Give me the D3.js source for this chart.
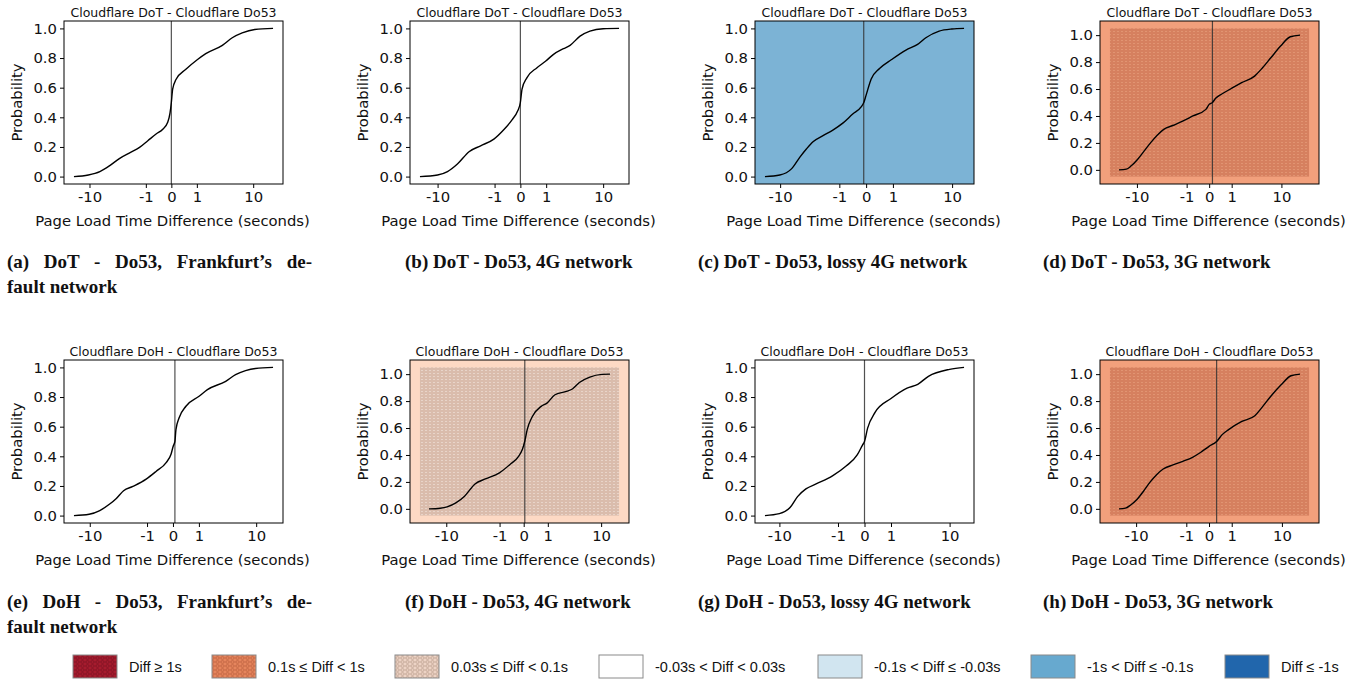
<!DOCTYPE html>
<html>
<head>
<meta charset="utf-8">
<script src="https://cdn.jsdelivr.net/npm/d3@7"></script>
<style>
body { margin: 0; background: #fff; }
</style>
</head>
<body>
<div id="chart"></div>
<script>
var W = 1361, H = 683;

// ---- data (x in seconds, p = cumulative probability) ----
var aX = [-16.9,-10.4,-6.97,-4.87,-3.33,-2.21,-1.40,-0.89,-0.50,-0.25,-0.098,-0.034,0,0.034,0.127,0.47,1.04,1.59,3.25,4.75,6.81,10.55,19.5];
var aP = [0,0.011,0.034,0.074,0.123,0.16,0.197,0.242,0.287,0.32,0.366,0.43,0.5,0.59,0.655,0.724,0.79,0.83,0.886,0.937,0.97,0.993,1.0];

var bX = [-18.0,-10.0,-7.11,-4.99,-3.22,-1.99,-1.04,-0.55,-0.24,-0.069,0,0.043,0.185,0.55,0.98,1.47,2.30,3.02,4.42,6.33,10.0,17.0];
var bP = [0,0.011,0.034,0.085,0.168,0.208,0.253,0.316,0.383,0.444,0.5,0.59,0.668,0.735,0.78,0.825,0.863,0.886,0.948,0.982,0.998,1.0];

var cX = [-16.3,-10.1,-6.87,-5.17,-4.08,-3.19,-2.15,-1.39,-0.82,-0.40,-0.13,-0.058,0,0.13,0.40,0.93,1.87,3.0,4.08,6.5,9.9,14.7];
var cP = [0,0.011,0.052,0.13,0.186,0.235,0.276,0.314,0.361,0.422,0.47,0.5,0.55,0.657,0.729,0.79,0.854,0.892,0.937,0.982,0.996,1.0];

var dX = [-19.8,-15.0,-12.45,-9.7,-7.5,-5.77,-4.4,-3.31,-2.1,-1.24,-0.64,-0.10,0,0.1,0.21,0.48,0.95,1.78,3.31,4.4,6.58,9.7,14.1,20.3];
var dP = [0,0.005,0.03,0.079,0.141,0.202,0.257,0.301,0.331,0.363,0.4,0.449,0.486,0.5,0.531,0.565,0.602,0.647,0.696,0.746,0.832,0.919,0.988,1.0];

var eX = [-16.9,-10.2,-7.1,-4.99,-3.9,-2.95,-2.0,-1.05,-0.56,-0.19,-0.05,0.008,0.05,0.078,0.17,0.40,1.01,1.55,3.36,4.87,6.94,9.76,17.5];
var eP = [0,0.009,0.034,0.078,0.116,0.168,0.197,0.246,0.298,0.358,0.414,0.47,0.5,0.58,0.66,0.738,0.805,0.85,0.906,0.951,0.978,0.993,1.0];

var fX = [-18.5,-12.45,-9.7,-7.03,-5.04,-3.31,-2.1,-1.01,-0.48,-0.15,-0.038,0.028,0.10,0.27,0.64,0.95,1.49,2.46,3.31,4.4,6.58,10.3,13.75];
var fP = [0,0.005,0.015,0.044,0.094,0.185,0.222,0.267,0.328,0.39,0.44,0.5,0.588,0.686,0.761,0.785,0.847,0.87,0.89,0.938,0.978,0.998,1.0];

var gX = [-16,-10,-7.0,-5.4,-4.0,-2.66,-1.33,-0.59,-0.2,-0.05,0,0.08,0.31,1.0,2.14,3.28,4.85,10,16];
var gP = [0,0.013,0.054,0.128,0.18,0.215,0.268,0.336,0.409,0.476,0.5,0.59,0.698,0.79,0.86,0.886,0.94,0.987,1.0];

var hX = [-19.1,-15.0,-12.45,-9.7,-7.5,-5.77,-4.4,-3.31,-2.1,-1.24,-0.64,-0.27,0,0.25,0.48,0.81,1.78,3.31,4.4,6.58,9.7,14.1,19.8];
var hP = [0,0.005,0.027,0.069,0.131,0.198,0.254,0.296,0.326,0.353,0.383,0.42,0.464,0.5,0.551,0.588,0.649,0.691,0.748,0.84,0.921,0.988,1.0];

var medians = [0, 0, -0.06, 0.1, 0.05, 0.03, 0, 0.25];
// median-difference category of each panel (index into legendLabels)
var panelCategory = [3, 3, 5, 1, 3, 2, 3, 1];

var titles = ["Cloudflare DoT - Cloudflare Do53", "Cloudflare DoH - Cloudflare Do53"];
var captions = [
  ["(a) DoT - Do53, Frankfurt\u2019s de-", "fault network"],
  ["(b) DoT - Do53, 4G network"],
  ["(c) DoT - Do53, lossy 4G network"],
  ["(d) DoT - Do53, 3G network"],
  ["(e) DoH - Do53, Frankfurt\u2019s de-", "fault network"],
  ["(f) DoH - Do53, 4G network"],
  ["(g) DoH - Do53, lossy 4G network"],
  ["(h) DoH - Do53, 3G network"]
];

var xTickVals = [-10, -1, 0, 1, 10];
var xTickLabels = ["-10", "-1", "0", "1", "10"];
var yTickVals = [0, 0.2, 0.4, 0.6, 0.8, 1.0];

var legendLabels = ["Diff \u2265 1s", "0.1s \u2264 Diff < 1s", "0.03s \u2264 Diff < 0.1s",
  "-0.03s < Diff < 0.03s", "-0.1s < Diff \u2264 -0.03s", "-1s < Diff \u2264 -0.1s", "Diff \u2264 -1s"];

// ---- styles ----
var catStyle = [
  { swatch: "url(#hatchRed)",    bg: "#b2182b", inner: null },
  { swatch: "url(#hatchOrange)", bg: "#f2a07c", inner: "url(#dotsOrange)" },
  { swatch: "url(#hatchPeach)",  bg: "#fdd9c4", inner: "url(#dotsPeach)" },
  { swatch: "#ffffff",           bg: "#ffffff", inner: null },
  { swatch: "#d1e5f0",           bg: "#d1e5f0", inner: null },
  { swatch: "#67a9cf",           bg: "#7cb3d5", inner: null },
  { swatch: "#2166ac",           bg: "#2166ac", inner: null }
];

var series = [[aX,aP],[bX,bP],[cX,cP],[dX,dP],[eX,eP],[fX,fP],[gX,gP],[hX,hP]];

var colLeft = [64, 410, 755, 1100];
var capLeft = [7, 405, 698, 1043];
var rowTop = [21, 360];
var pw = 219, ph = 163;

var SYM_C = 0.8;
function T(x) { return Math.sign(x) * Math.log1p(Math.abs(x) / SYM_C); }
function Tinv(u) { return Math.sign(u) * SYM_C * Math.expm1(Math.abs(u)); }

var svg = d3.select("#chart").append("svg")
  .attr("width", W).attr("height", H)
  .style("font-family", "'DejaVu Sans', sans-serif");

// ---- patterns ----
var defs = svg.append("defs");
function dots(id, base, dot) {
  var p = defs.append("pattern").attr("id", id)
    .attr("patternUnits", "userSpaceOnUse").attr("width", 4).attr("height", 3);
  p.append("rect").attr("width", 4).attr("height", 3).attr("fill", base);
  p.append("rect").attr("x", 1.5).attr("y", 1).attr("width", 1).attr("height", 1).attr("fill", dot);
}
dots("dotsOrange", "#d6805f", "#eda886");
dots("dotsPeach", "#dabcac", "#f6ece6");

function rings(id, base, line) {
  var p = defs.append("pattern").attr("id", id)
    .attr("patternUnits", "userSpaceOnUse").attr("width", 5).attr("height", 4);
  p.append("rect").attr("width", 5).attr("height", 4).attr("fill", base);
  p.append("ellipse").attr("cx", 2.5).attr("cy", 2).attr("rx", 1.8).attr("ry", 1.3)
    .attr("fill", "none").attr("stroke", line).attr("stroke-width", 0.7);
}
rings("hatchRed", "#a71b2e", "#761020");
rings("hatchOrange", "#e6855d", "#b45a3a");
rings("hatchPeach", "#edd3c5", "#b39785");

// ---- panels ----
series.forEach(function(s, i) {
  var xs = s[0], ps = s[1];
  var row = Math.floor(i / 4), col = i % 4;
  var left = colLeft[col], top = rowTop[row];
  var st = catStyle[panelCategory[i]];
  var shaded = st.inner !== null;

  var lo = T(d3.min(xs)), hi = T(d3.max(xs));
  var pad = (hi - lo) * 0.05;
  var u0 = lo - pad, u1 = hi + pad;
  var rectU = [u0, u1];
  if (shaded) {
    var pad2 = (u1 - u0) * 0.05;
    u0 -= pad2; u1 += pad2;
  }

  var x = d3.scaleSymlog().constant(SYM_C)
    .domain([Tinv(u0), Tinv(u1)])
    .range([left, left + pw]);
  var y = d3.scaleLinear()
    .domain(shaded ? [-0.105, 1.105] : [-0.05, 1.05])
    .range([top + ph, top]);

  var g = svg.append("g");

  g.append("rect")
    .attr("x", left).attr("y", top).attr("width", pw).attr("height", ph)
    .attr("fill", st.bg);

  if (shaded) {
    g.append("rect")
      .attr("x", x(Tinv(rectU[0])))
      .attr("y", y(1.05))
      .attr("width", x(Tinv(rectU[1])) - x(Tinv(rectU[0])))
      .attr("height", y(-0.05) - y(1.05))
      .attr("fill", st.inner);
  }

  // median line
  g.append("line")
    .attr("x1", x(medians[i])).attr("x2", x(medians[i]))
    .attr("y1", top).attr("y2", top + ph)
    .attr("stroke", "#333").attr("stroke-opacity", 0.85)
    .attr("stroke-width", 1.2);

  var pts = xs.map(function(v, k) { return [x(v), y(ps[k])]; });
  g.append("path")
    .attr("d", d3.line().curve(d3.curveMonotoneX)(pts))
    .attr("fill", "none").attr("stroke", "#000").attr("stroke-width", 1.4);

  g.append("rect")
    .attr("x", left).attr("y", top).attr("width", pw).attr("height", ph)
    .attr("fill", "none").attr("stroke", "#000").attr("stroke-width", 1);

  var xAxis = d3.axisBottom(x).tickValues(xTickVals)
    .tickFormat(function(d, k) { return xTickLabels[k]; })
    .tickSize(4).tickPadding(3).tickSizeOuter(0);
  var gx = g.append("g").attr("transform", "translate(0," + (top + ph) + ")").call(xAxis);
  gx.select(".domain").remove();
  gx.selectAll("text").style("font-size", "14.8px").style("font-family", "'DejaVu Sans', sans-serif").attr("fill", "#111");

  var yAxis = d3.axisLeft(y).tickValues(yTickVals).tickFormat(d3.format(".1f"))
    .tickSize(4).tickPadding(3).tickSizeOuter(0);
  var gy = g.append("g").attr("transform", "translate(" + left + ",0)").call(yAxis);
  gy.select(".domain").remove();
  gy.selectAll("text").style("font-size", "14.8px").style("font-family", "'DejaVu Sans', sans-serif").attr("fill", "#111");

  g.append("text")
    .attr("x", left + pw / 2).attr("y", top - 4)
    .attr("text-anchor", "middle").style("font-size", "12.5px").attr("fill", "#111")
    .text(titles[row]);

  g.append("text")
    .attr("x", left + pw / 2 - 1).attr("y", top + ph + 42)
    .attr("text-anchor", "middle").style("font-size", "14.8px").attr("fill", "#111")
    .text("Page Load Time Difference (seconds)");

  g.append("text")
    .attr("transform", "translate(" + (left - 42) + "," + (top + ph / 2) + ") rotate(-90)")
    .attr("text-anchor", "middle").style("font-size", "14.8px").attr("fill", "#111")
    .text("Probability");

  // caption
  var capY = row === 0 ? 268 : 608;
  captions[i].forEach(function(line, k) {
    var t = g.append("text")
      .attr("x", capLeft[col]).attr("y", capY + k * 25)
      .style("font-family", "'Liberation Serif', 'Times New Roman', serif")
      .style("font-weight", "bold").style("font-size", "19px").attr("fill", "#111")
      .text(line);
    if (captions[i].length > 1 && k === 0) {
      var target = 305;
      var len = t.node().getComputedTextLength();
      var spaces = line.split(" ").length - 1;
      if (len < target && spaces > 0) t.attr("word-spacing", (target - len) / spaces);
    }
  });
});

// ---- legend ----
var legX = [73, 212, 395, 599, 818, 1031, 1225];
var legend = svg.append("g");
legendLabels.forEach(function(lab, i) {
  legend.append("rect")
    .attr("x", legX[i]).attr("y", 655).attr("width", 44).attr("height", 23)
    .attr("fill", catStyle[i].swatch).attr("stroke", "#8a8a8a").attr("stroke-width", 1);
  legend.append("text")
    .attr("x", legX[i] + 56).attr("y", 672)
    .style("font-family", "'Liberation Sans', Arial, sans-serif").style("font-size", "14.5px")
    .attr("fill", "#111")
    .text(lab);
});
</script>
</body>
</html>
